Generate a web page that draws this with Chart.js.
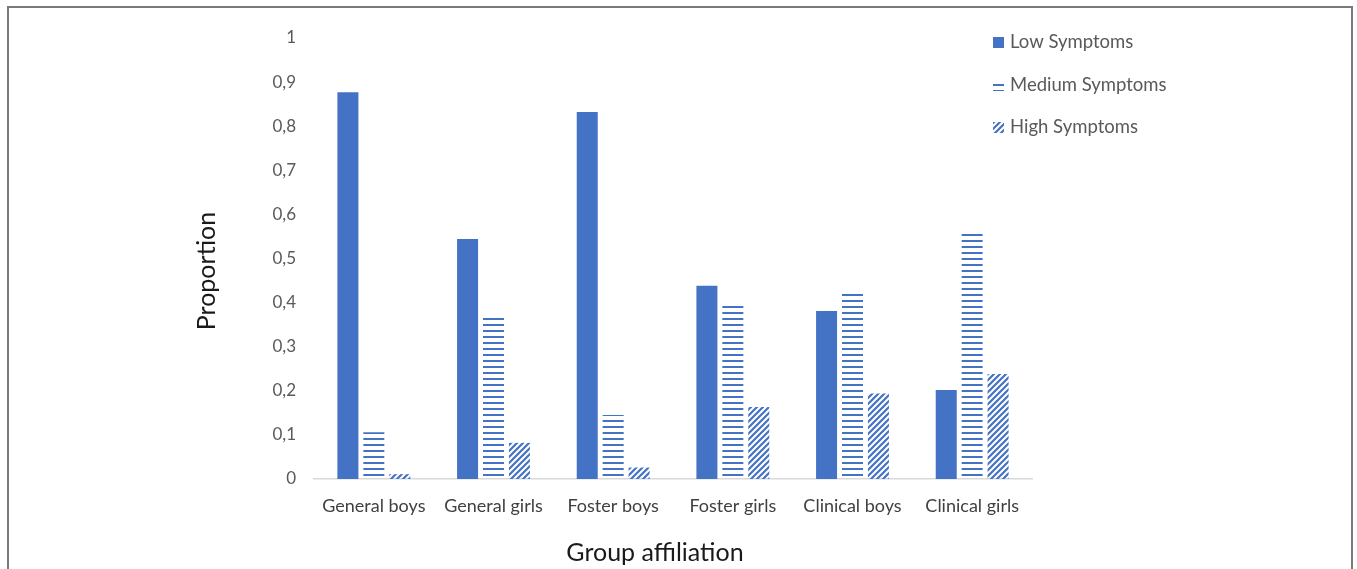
<!DOCTYPE html>
<html>
<head>
<meta charset="utf-8">
<title>Symptom levels by group affiliation</title>
<script src="https://cdn.jsdelivr.net/npm/chart.js@4/dist/chart.umd.min.js"></script>
<style>
  html, body { margin: 0; padding: 0; background: #fff; overflow: hidden; }
  #wrap { position: relative; width: 1357px; height: 569px; overflow: hidden; }
  #frame { position: absolute; left: 7px; top: 6px; width: 1346px; height: 700px;
           border: 2px solid #7a7a7a; box-sizing: border-box; pointer-events: none; }
  canvas { position: absolute; left: 0; top: 0; }
</style>
</head>
<body>
<div id="wrap">
  <canvas id="chart" width="1357" height="569"></canvas>
  <div id="frame"></div>
</div>
<script>
// Groups on the x axis
const categories = ['General boys', 'General girls', 'Foster boys', 'Foster girls', 'Clinical boys', 'Clinical girls'];

// Proportion of each group per symptom level
const lowSymptoms    = [0.877, 0.544, 0.832, 0.438, 0.381, 0.202];
const mediumSymptoms = [0.106, 0.367, 0.145, 0.395, 0.422, 0.556];
const highSymptoms   = [0.011, 0.082, 0.026, 0.163, 0.194, 0.238];

const seriesNames = ['Low Symptoms', 'Medium Symptoms', 'High Symptoms'];

// Y tick labels use a decimal comma
const yTickLabels = ['0', '0,1', '0,2', '0,3', '0,4', '0,5', '0,6', '0,7', '0,8', '0,9', '1'];

const xTitle = 'Group affiliation';
const yTitle = 'Proportion';

const BLUE = '#4472C4';
const FONT = 'Lato, "Open Sans", sans-serif';
const TEXT = '#595959';

// Horizontal stripe fill
function stripePattern() {
  const c = document.createElement('canvas');
  c.width = 6; c.height = 6;
  const g = c.getContext('2d');
  g.fillStyle = BLUE;
  g.fillRect(0, 0, 6, 2);
  return g.createPattern(c, 'repeat');
}

// Forward diagonal hatch fill
function hatchPattern() {
  const s = 6;
  const c = document.createElement('canvas');
  c.width = s; c.height = s;
  const g = c.getContext('2d');
  g.strokeStyle = BLUE;
  g.lineWidth = 2.2;
  g.beginPath();
  g.moveTo(0, s); g.lineTo(s, 0);
  g.moveTo(-1, 1); g.lineTo(1, -1);
  g.moveTo(s - 1, s + 1); g.lineTo(s + 1, s - 1);
  g.stroke();
  return g.createPattern(c, 'repeat');
}

// Legend as a vertical list in the upper right, plus the two axis titles
const annotations = {
  id: 'annotations',
  afterDraw(chart) {
    const ctx = chart.ctx;
    const x0 = 993, ys = [42, 85, 127];
    ctx.save();
    chart.data.datasets.forEach((ds, i) => {
      const y = ys[i];
      ctx.fillStyle = ds.backgroundColor;
      if (i === 1) ctx.fillRect(x0, y - 3, 11, 9);
      else ctx.fillRect(x0, y - 5, 11, 11);
      ctx.fillStyle = TEXT;
      ctx.font = '18.5px ' + FONT;
      ctx.textBaseline = 'middle';
      ctx.textAlign = 'left';
      ctx.fillText(ds.label, x0 + 17, y);
    });

    ctx.fillStyle = '#1a1a1a';
    ctx.font = '25px ' + FONT;
    ctx.textAlign = 'center';
    ctx.textBaseline = 'middle';
    ctx.fillText(xTitle, 655, 553);

    ctx.translate(207, 271);
    ctx.rotate(-Math.PI / 2);
    ctx.fillText(yTitle, 0, 0);
    ctx.restore();
  }
};

const ctx = document.getElementById('chart').getContext('2d');
new Chart(ctx, {
  type: 'bar',
  data: {
    labels: categories,
    datasets: [
      { label: seriesNames[0], data: lowSymptoms,    backgroundColor: BLUE },
      { label: seriesNames[1], data: mediumSymptoms, backgroundColor: stripePattern() },
      { label: seriesNames[2], data: highSymptoms,   backgroundColor: hatchPattern() }
    ]
  },
  options: {
    responsive: false,
    animation: false,
    devicePixelRatio: 1,
    layout: { padding: { left: 194, right: 325, top: 38, bottom: 3 } },
    datasets: { bar: { categoryPercentage: 0.65, barPercentage: 0.81 } },
    plugins: {
      legend: { display: false },
      tooltip: { enabled: false }
    },
    scales: {
      x: {
        grid: { display: false, drawTicks: false },
        border: { display: true, color: '#d9d9d9', width: 1.5 },
        ticks: { color: '#404040', font: { family: FONT, size: 18 }, padding: 16, maxRotation: 0 },
        afterFit(s) { s.height = 87; }
      },
      y: {
        min: 0, max: 1,
        grid: { display: false, drawTicks: false },
        border: { display: false },
        ticks: {
          stepSize: 0.1,
          color: TEXT,
          font: { family: FONT, size: 17 },
          padding: 18,
          callback: (v, i) => yTickLabels[i]
        },
        afterFit(s) { s.width = 120; }
      }
    }
  },
  plugins: [annotations]
});
</script>
</body>
</html>
